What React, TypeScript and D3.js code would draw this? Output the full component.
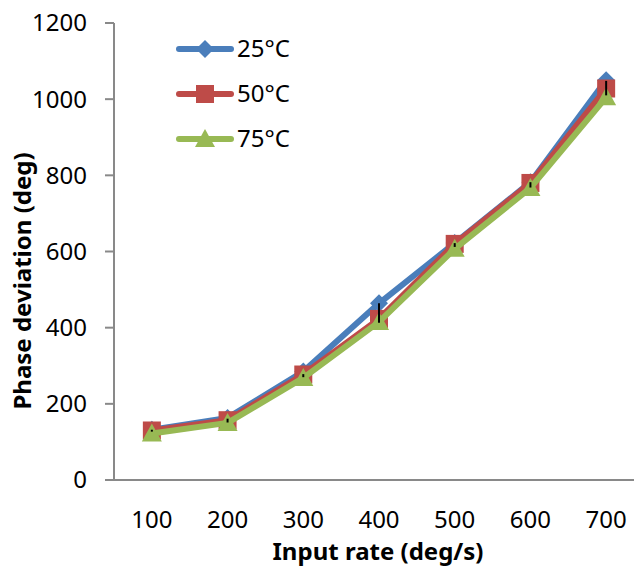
import React from "react";
import * as d3 from "d3";

const categories = ["100", "200", "300", "400", "500", "600", "700"];
const series25 = [132, 163, 285, 464, 622, 782, 1050];
const series50 = [130, 157, 277, 423, 620, 780, 1028];
const series75 = [122, 150, 268, 415, 607, 767, 1005];
const errLow = [127, 151, 270, 413, 612, 768, 1010];
const errHigh = [132, 161, 278, 464, 622, 782, 1048];
const yTicks = [0, 200, 400, 600, 800, 1000, 1200];
const seriesNames = ["25°C", "50°C", "75°C"];

const W = 634;
const H = 583;
const FONT = "'Noto Sans', 'Open Sans', sans-serif";
const COLORS = ["#4A7EBB", "#BE4B48", "#98B954"];
const AXIS = "#898989";

function Marker({ kind, x, y, color }: { kind: number; x: number; y: number; color: string }) {
  if (kind === 0) {
    const s = 9;
    return <path d={`M${x},${y - s}L${x + s},${y}L${x},${y + s}L${x - s},${y}Z`} fill={color} />;
  }
  if (kind === 1) {
    const s = 9;
    return <rect x={x - s} y={y - s} width={2 * s} height={2 * s} fill={color} />;
  }
  const s = 10;
  return <path d={`M${x},${y - s}L${x + s},${y + s * 0.8}L${x - s},${y + s * 0.8}Z`} fill={color} />;
}

export default function App() {
  const x = d3.scaleBand<string>().domain(categories).range([114, 644]).padding(0);
  const y = d3.scaleLinear().domain([0, 1200]).range([480, 23]);
  const cx = (c: string) => (x(c) as number) + x.bandwidth() / 2;
  const line = d3
    .line<number>()
    .x((_, i) => cx(categories[i]))
    .y((d) => y(d));
  const all = [series25, series50, series75];

  return (
    <svg width={W} height={H} style={{ position: "absolute", left: 0, top: 0, background: "#fff" }} fontFamily={FONT}>
      <rect x={0} y={0} width={W} height={H} fill="#fff" />
      {/* y axis */}
      <line x1={114} x2={114} y1={y(1200)} y2={y(0)} stroke={AXIS} strokeWidth={2} />
      {yTicks.map((t) => (
        <g key={t}>
          <line x1={105} x2={114} y1={y(t)} y2={y(t)} stroke={AXIS} strokeWidth={2} />
          <text x={87} y={y(t)} dy="0.35em" textAnchor="end" fontSize={24} fill="#000">
            {t}
          </text>
        </g>
      ))}
      {/* x axis */}
      <line x1={105} x2={W} y1={y(0)} y2={y(0)} stroke={AXIS} strokeWidth={2} />
      {categories.map((c) => (
        <text key={c} x={cx(c)} y={528} textAnchor="middle" fontSize={24} fill="#000">
          {c}
        </text>
      ))}
      {/* titles */}
      <text x={378} y={560} textAnchor="middle" fontSize={24} fontWeight="bold" fill="#000">
        Input rate (deg/s)
      </text>
      <text
        transform={`translate(31,281) rotate(-90)`}
        textAnchor="middle"
        fontSize={24}
        fontWeight="bold"
        fill="#000"
      >
        Phase deviation (deg)
      </text>
      {/* series */}
      {all.map((s, k) => (
        <g key={k}>
          <path d={line(s) || ""} fill="none" stroke={COLORS[k]} strokeWidth={6} strokeLinejoin="round" strokeLinecap="round" />
          {s.map((v, i) => (
            <Marker key={i} kind={k} x={cx(categories[i])} y={y(v)} color={COLORS[k]} />
          ))}
        </g>
      ))}
      {/* error bars */}
      {categories.map((c, i) => (
        <line
          key={c}
          x1={cx(c)}
          x2={cx(c)}
          y1={y(errLow[i])}
          y2={y(errHigh[i])}
          stroke="#000"
          strokeWidth={2}
        />
      ))}
      {/* legend */}
      {seriesNames.map((n, k) => {
        const ly = 49 + k * 45;
        return (
          <g key={n}>
            <line x1={179} x2={231} y1={ly} y2={ly} stroke={COLORS[k]} strokeWidth={6} strokeLinecap="round" />
            <Marker kind={k} x={205} y={ly} color={COLORS[k]} />
            <text x={237} y={ly} dy="0.35em" fontSize={24} fill="#000">
              {n}
            </text>
          </g>
        );
      })}
    </svg>
  );
}
